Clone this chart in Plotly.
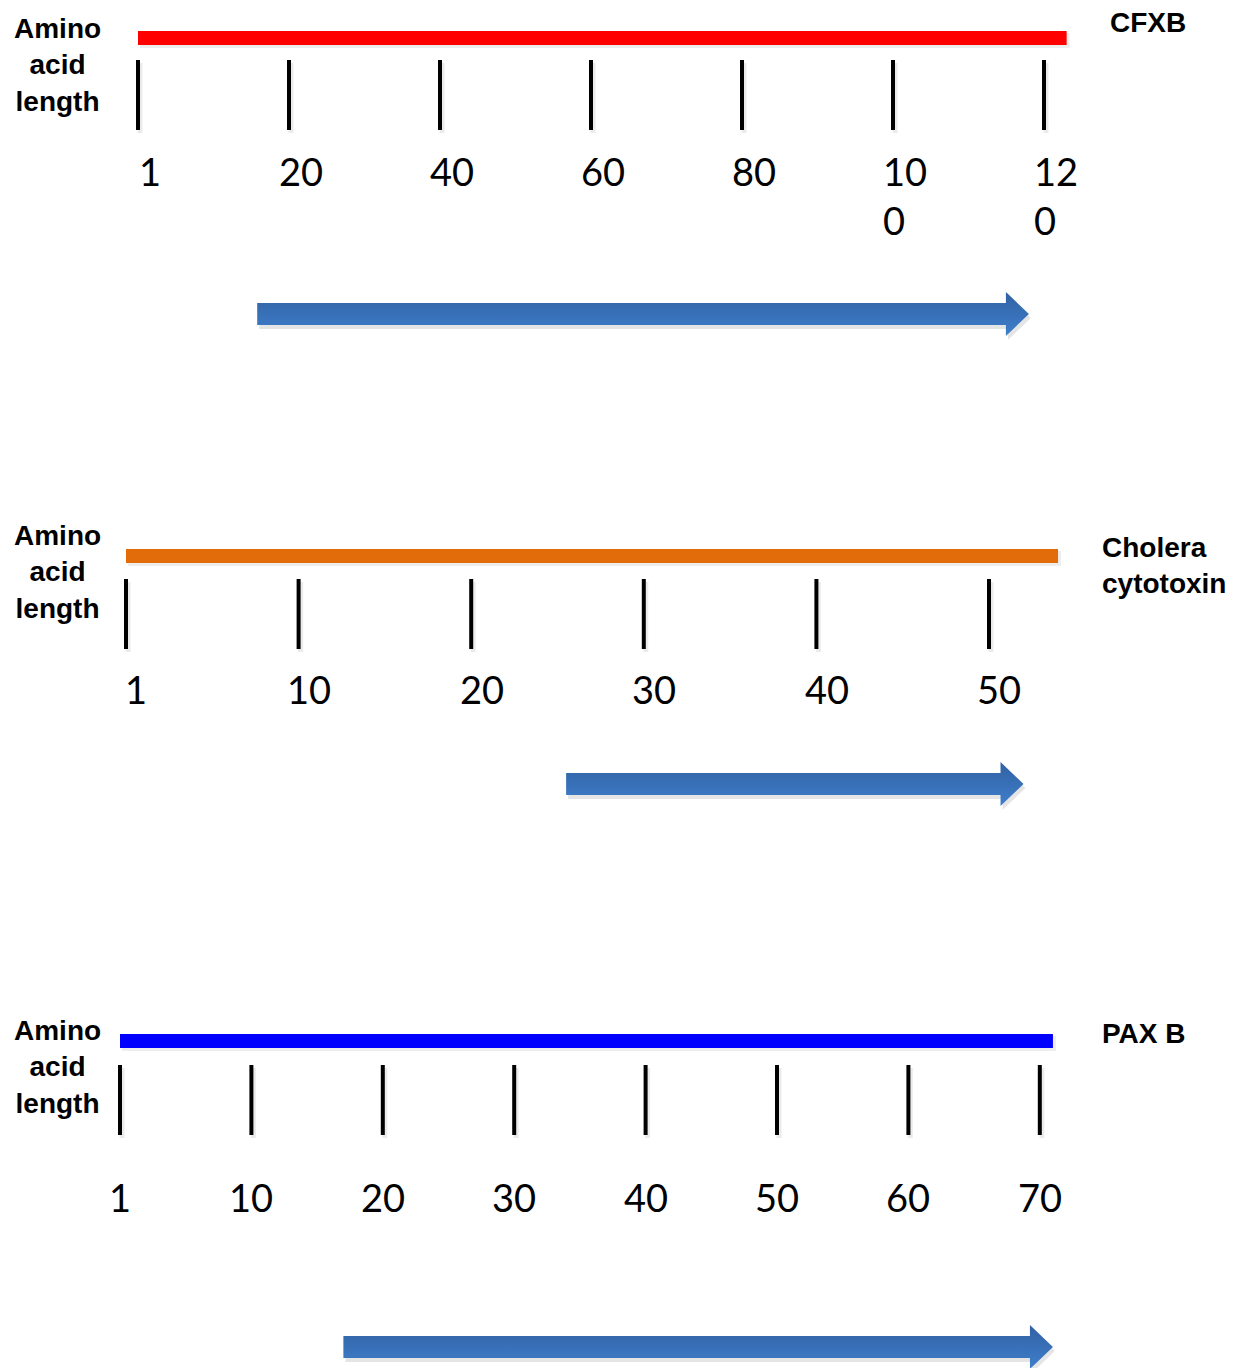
import numpy as np
import plotly.graph_objects as go

# ---------------- data ----------------
protein_names = ["CFXB", "Cholera<br>cytotoxin", "PAX B"]
cfxb_ticks = [1, 20, 40, 60, 80, 100, 120]
cholera_ticks = [1, 10, 20, 30, 40, 50]
paxb_ticks = [1, 10, 20, 30, 40, 50, 60, 70]
protein_lengths = [123, 54, 71]          # residues (end of coloured bar)
region_starts = [16, 25.5, 17]           # blue arrow start residue
region_ends = [118, 52, 71]              # blue arrow end residue
bar_colors = ["#FF0000", "#E36C0A", "#0000FF"]
tick_sets = [cfxb_ticks, cholera_ticks, paxb_ticks]

# ---------------- layout constants ----------------
OFF = 8                      # page body margin
W, H = 1238 - OFF, 1368 - OFF
panel_x0 = [138 - OFF, 126 - OFF, 120 - OFF]   # pixel of first tick
panel_step = [151, 172.6, 131.4]               # pixel spacing between ticks
bar_y = [v - OFF for v in [38, 556, 1041]]
tick_top = [v - OFF for v in [60, 579, 1065]]
tick_len = 70
label_y = [v - OFF for v in [146, 664, 1172]]
title_y = [v - OFF for v in [65, 572, 1067]]
title_x = 57 - OFF
name_pos = [(1108 - OFF, 22 - OFF), (1100 - OFF, 565 - OFF), (1100 - OFF, 1033 - OFF)]
arrow_y = [v - OFF for v in [314, 784, 1347]]
label_dx = [0.08, 0.06, 0.0]


def to_index(v, ticks):
    ticks = np.asarray(ticks, float)
    n = len(ticks)
    if v <= ticks[-1]:
        return float(np.interp(v, ticks, np.arange(n)))
    return n - 1 + (v - ticks[-1]) / (ticks[-1] - ticks[-2])


fig = go.Figure()
shapes = []
annotations = []

for p in range(3):
    xa = "x" if p == 0 else f"x{p+1}"
    ticks = tick_sets[p]
    step = panel_step[p]
    px = 1.0 / step  # one pixel in index units

    # coloured bar (with faint shadow)
    x1 = to_index(protein_lengths[p], ticks)
    shapes.append(dict(type="rect", xref=xa, yref="y", x0=2 * px, x1=x1 + 3 * px,
                       y0=bar_y[p] - 5, y1=bar_y[p] + 10, line_width=0,
                       fillcolor="rgba(0,0,0,0.07)", layer="below"))
    shapes.append(dict(type="rect", xref=xa, yref="y", x0=0, x1=x1,
                       y0=bar_y[p] - 7, y1=bar_y[p] + 7, line_width=0,
                       fillcolor=bar_colors[p]))

    # tick marks
    tx, ty = [], []
    for i, _ in enumerate(ticks):
        tx += [i, i, None]
        ty += [tick_top[p], tick_top[p] + tick_len, None]
    fig.add_trace(go.Scatter(x=[v + 2 * px if v is not None else None for v in tx],
                             y=[v + 3 if v is not None else None for v in ty],
                             xaxis=xa, yaxis="y", mode="lines",
                             line=dict(color="rgba(0,0,0,0.08)", width=5),
                             hoverinfo="skip", showlegend=False))
    fig.add_trace(go.Scatter(x=tx, y=ty, xaxis=xa, yaxis="y", mode="lines",
                             line=dict(color="black", width=4),
                             hoverinfo="skip", showlegend=False))

    # tick labels
    for i, t in enumerate(ticks):
        s = str(t)
        if len(s) > 2:
            s = s[:2] + "<br>" + s[2:]
        annotations.append(dict(x=i + label_dx[p], y=label_y[p], xref=xa, yref="y",
                                text=s, showarrow=False, xanchor="center",
                                yanchor="top", align="left",
                                font=dict(family="Lato, Carlito, sans-serif",
                                          size=38, color="black")))

    # y title
    annotations.append(dict(x=title_x / W, y=title_y[p], xref="paper", yref="y",
                            text="<b>Amino<br>acid<br>length</b>", showarrow=False,
                            xanchor="center", yanchor="middle", align="center",
                            font=dict(family="Liberation Sans, Arial, sans-serif",
                                      size=28, color="black")))
    # protein name
    nx, ny = name_pos[p]
    annotations.append(dict(x=nx / W, y=ny, xref="paper", yref="y",
                            text=f"<b>{protein_names[p]}</b>", showarrow=False,
                            xanchor="left", yanchor="middle", align="left",
                            font=dict(family="Liberation Sans, Arial, sans-serif",
                                      size=28, color="black")))

    # region arrow
    a0 = to_index(region_starts[p], ticks)
    a1 = to_index(region_ends[p], ticks)
    head = 23 * px
    yc = arrow_y[p]
    ax = [a0, a1 - head, a1 - head, a1, a1 - head, a1 - head, a0, a0]
    ay = [yc - 11, yc - 11, yc - 22, yc, yc + 22, yc + 11, yc + 11, yc - 11]
    fig.add_trace(go.Scatter(x=[v + 2 * px for v in ax], y=[v + 4 for v in ay],
                             xaxis=xa, yaxis="y", mode="lines", fill="toself",
                             fillcolor="rgba(0,0,0,0.10)", line=dict(width=0),
                             hoverinfo="skip", showlegend=False))
    fig.add_trace(go.Scatter(x=ax, y=ay, xaxis=xa, yaxis="y", mode="lines",
                             fill="toself", line=dict(width=0, color="#3A72BC"),
                             fillgradient=dict(type="vertical",
                                               colorscale=[[0, "#3F7FCC"], [1, "#3161A3"]]),
                             hoverinfo="skip", showlegend=False))

layout = dict(width=W, height=H, margin=dict(l=0, r=0, t=0, b=0),
              paper_bgcolor="white", plot_bgcolor="white", showlegend=False,
              shapes=shapes, annotations=annotations,
              yaxis=dict(range=[H, 0], visible=False, fixedrange=True))
for p in range(3):
    key = "xaxis" if p == 0 else f"xaxis{p+1}"
    r0 = -panel_x0[p] / panel_step[p]
    r1 = (W - panel_x0[p]) / panel_step[p]
    ax_def = dict(range=[r0, r1], visible=False, domain=[0, 1], fixedrange=True)
    if p > 0:
        ax_def["overlaying"] = "x"
    layout[key] = ax_def
fig.update_layout(**layout)

fig.write_html("out.html")
